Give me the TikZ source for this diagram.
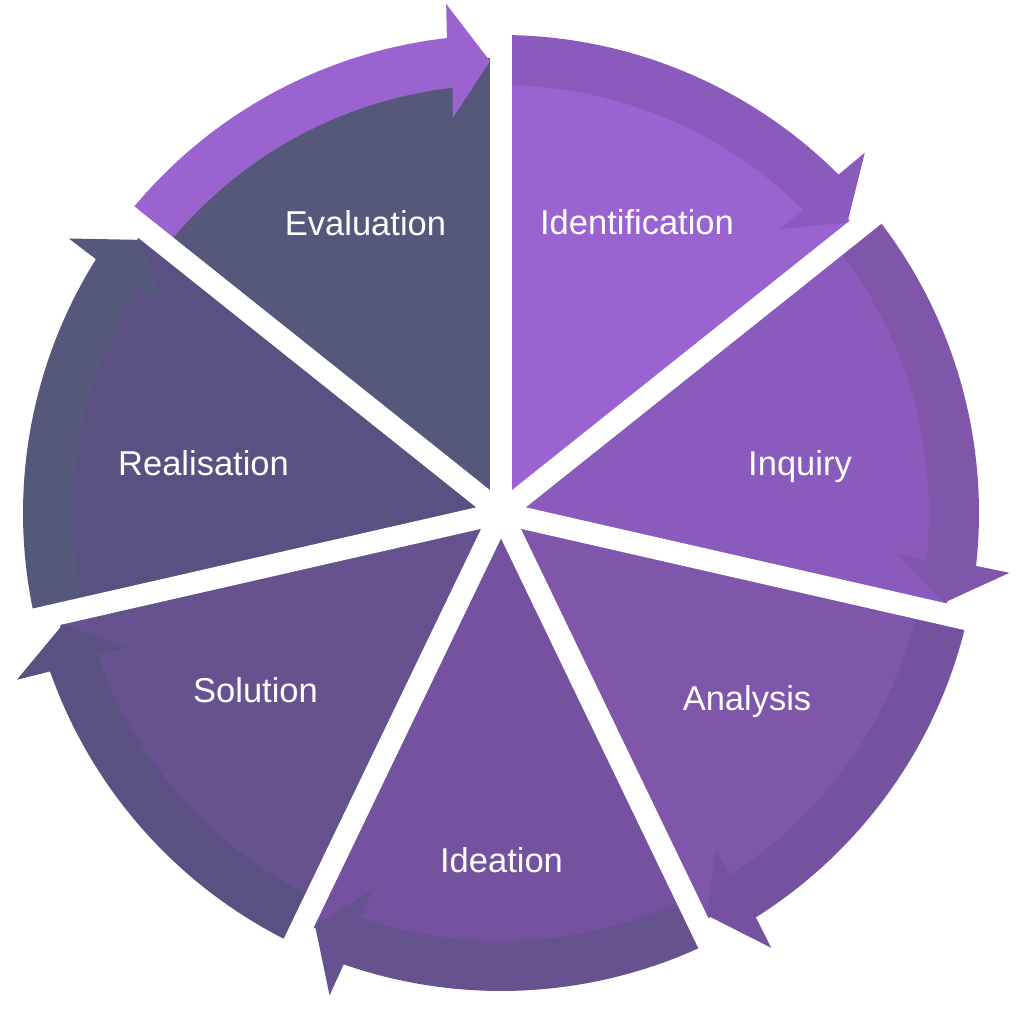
\documentclass[tikz,border=0pt]{standalone}
\usepackage{fontspec}
\setmainfont{Liberation Sans}
\usetikzlibrary{calc}
\definecolor{cA}{HTML}{9B63CF}
\definecolor{cB}{HTML}{8B5ABD}
\definecolor{cC}{HTML}{8056AB}
\definecolor{cD}{HTML}{74529F}
\definecolor{cE}{HTML}{66528F}
\definecolor{cF}{HTML}{5B5082}
\definecolor{cG}{HTML}{55577B}
\begin{document}
\begin{tikzpicture}[x=1pt,y=1pt,
  lbl/.style={text=white, font=\fontsize{34.5}{40}\selectfont, anchor=base, inner sep=0pt},
  gapline/.style={white, line width=22pt}]
\useasboundingbox (0,0) rectangle (1019,1024);
\fill[white] (0,0) rectangle (1019,1024);
\coordinate (C) at (501,511);
% sectors
\foreach \k/\col in {0/cA,1/cB,2/cC,3/cD,4/cE,5/cF,6/cG}{
  \pgfmathsetmacro{\angS}{90-51.428571*\k}
  \pgfmathsetmacro{\angE}{\angS-51.428571}
  \fill[\col] (C) -- ($(C)+(\angS:455)$) arc[start angle=\angS, end angle=\angE, radius=455] -- cycle;
}
% arrows
\foreach \k/\col in {0/cB,1/cC,2/cD,3/cE,4/cF,5/cG,6/cA}{
  \pgfmathsetmacro{\angS}{90-51.428571*\k}
  \pgfmathsetmacro{\angT}{\angS-51.428571+1.4}
  \pgfmathsetmacro{\angB}{\angT+5.1}
  \pgfmathsetmacro{\angBo}{\angB-0.35}
  \pgfmathsetmacro{\angBi}{\angB+0.45}
  \fill[\col] ($(C)+(\angS:478)$) arc[start angle=\angS, end angle=\angB, radius=478]
     -- ($(C)+(\angBo:512)$) -- ($(C)+(\angT:452)$) -- ($(C)+(\angBi:398)$)
     -- ($(C)+(\angB:428)$) arc[start angle=\angB, end angle=\angS, radius=428] -- cycle;
}
% gaps
\foreach \k in {0,...,6}{
  \pgfmathsetmacro{\angG}{90-51.428571*\k}
  \draw[gapline] (C) -- ($(C)+(\angG:486)$);
}
% labels
\node[lbl] (identification) at (637,789) {Identification};
\node[lbl] (inquiry) at (800,548) {Inquiry};
\node[lbl] (analysis) at (747,313) {Analysis};
\node[lbl] (ideation) at (501.5,151) {Ideation};
\node[lbl] (solution) at (255.5,321) {Solution};
\node[lbl] (realisation) at (203.5,548) {Realisation};
\node[lbl] (evaluation) at (365.5,788) {Evaluation};
\end{tikzpicture}
\end{document}
